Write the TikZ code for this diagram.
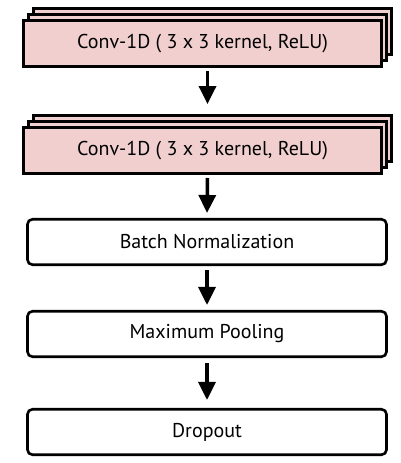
\documentclass[tikz,border=0pt]{standalone}
\usepackage{fontspec}
\setmainfont{PT Sans}
\usetikzlibrary{shadows,arrows.meta}
\definecolor{convpink}{RGB}{241,207,207}
\begin{document}
\begin{tikzpicture}[x=1pt,y=1pt,
  txt/.style={font=\fontsize{20}{24}\selectfont},
  conv/.style={txt, draw, line width=3pt, fill=convpink, minimum width=358pt, minimum height=46pt, inner sep=0pt,
    double copy shadow={shadow xshift=5pt, shadow yshift=6pt}},
  layer/.style={txt, draw, line width=2.6pt, rounded corners=5pt, fill=white, minimum width=359pt, minimum height=45.5pt, inner sep=0pt},
  flow/.style={-{Triangle[length=18pt,width=17pt]}, line width=3.5pt}]
\useasboundingbox (0,0) rectangle (401,-463);
\node[conv] (c1) at (202.5,-43.5) {Conv-1D ( 3 x 3 kernel, ReLU)};
\node[conv] (c2) at (202.5,-150.5) {Conv-1D ( 3 x 3 kernel, ReLU)};
\node[layer] (bn) at (207,-242) {Batch Normalization};
\node[layer] (mp) at (207,-334) {Maximum Pooling};
\node[layer] (dp) at (207,-432) {Dropout};
\draw[flow] ([xshift=5pt,yshift=-3pt]c1.south) -- ([xshift=5pt,yshift=22pt]c2.north);
\draw[flow] ([xshift=5pt,yshift=-3pt]c2.south) -- ([yshift=5pt]bn.north);
\draw[flow] ([yshift=-4pt]bn.south) -- ([yshift=5pt]mp.north);
\draw[flow] ([yshift=-5pt]mp.south) -- ([yshift=8pt]dp.north);
\end{tikzpicture}
\end{document}
